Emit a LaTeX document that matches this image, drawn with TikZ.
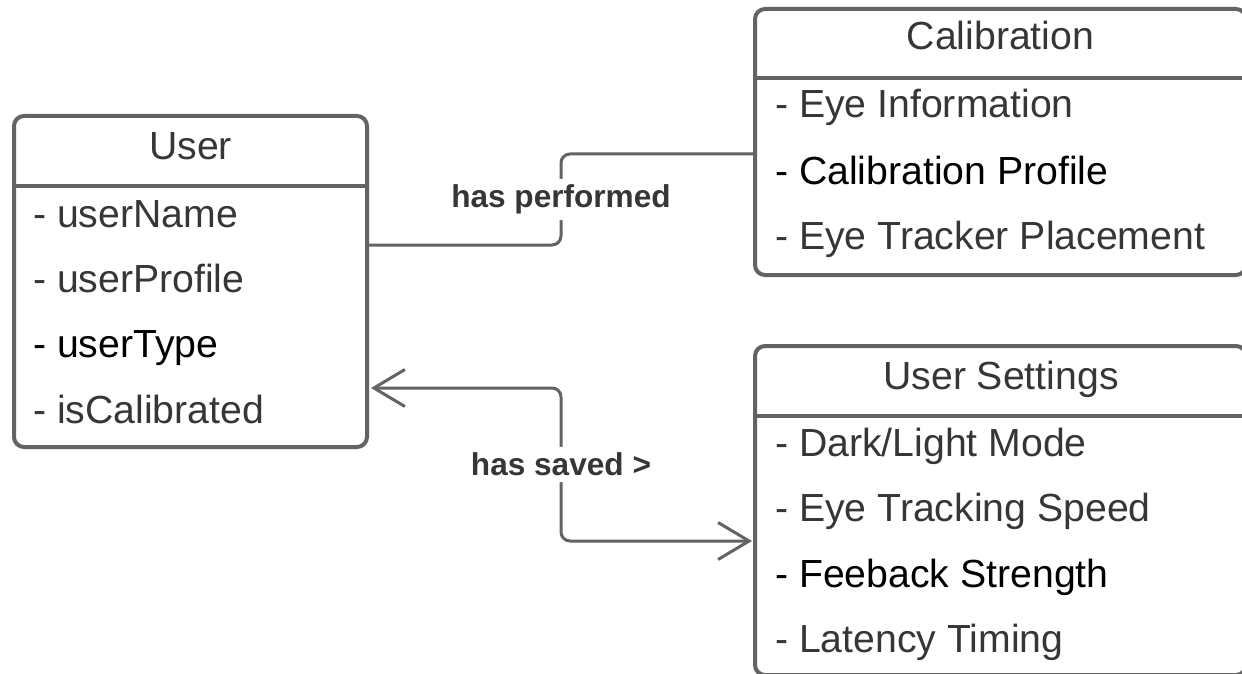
\documentclass[tikz,border=0pt]{standalone}
\usepackage{fontspec}
\setmainfont{Liberation Sans}
\usepackage{tikz}
\usetikzlibrary{positioning, arrows.meta}

\definecolor{linegray}{HTML}{636363}
\definecolor{textgray}{HTML}{363636}

\tikzset{
    classbox/.style={draw=linegray, line width=4pt, rounded corners=10pt, anchor=north west, inner sep=0pt, outer sep=0pt},
    divider/.style={draw=linegray, line width=4pt},
    classtitle/.style={anchor=base, inner sep=0pt, text=textgray, font=\fontsize{39.2}{46}\selectfont},
    attr/.style={anchor=base west, inner sep=0pt, text=textgray, font=\fontsize{39.2}{46}\selectfont},
    link/.style={draw=linegray, line width=3pt, rounded corners=9pt},
    linklabel/.style={fill=white, inner xsep=3pt, inner ysep=6pt, text=textgray, font=\bfseries\fontsize{31.6}{36}\selectfont},
    openhead/.tip={Straight Barb[length=31pt, width=37pt]}
}

\begin{document}
\begin{tikzpicture}[x=1pt, y=-1pt]
    \useasboundingbox (0,0) rectangle (1242,674);

    % User
    \node[classbox, minimum width=353pt, minimum height=331pt] (user) at (14,116) {};
    \draw[divider] (14,186) -- (367,186);
    \node[classtitle] (usertitle) at (190.5,159) {User};
    \node[attr] (username) at (33,227) {- userName};
    \node[attr] (userprofile) at (33,292) {- userProfile};
    \node[attr, text=black] (usertype) at (33,357) {- userType};
    \node[attr] (iscalibrated) at (33,423) {- isCalibrated};

    % Calibration
    \node[classbox, minimum width=491pt, minimum height=266pt] (calib) at (755,9) {};
    \draw[divider] (755,78) -- (1246,78);
    \node[classtitle] (calibtitle) at (1000.5,50) {Calibration};
    \node[attr] (eyeinfo) at (775,118) {- Eye Information};
    \node[attr, text=black] (calibprofile) at (775,184) {- Calibration Profile};
    \node[attr] (placement) at (775,249) {- Eye Tracker Placement};

    % User Settings
    \node[classbox, minimum width=491pt, minimum height=329pt] (settings) at (755,346) {};
    \draw[divider] (755,416) -- (1246,416);
    \node[classtitle] (settingstitle) at (1001,389) {User Settings};
    \node[attr] (mode) at (775,456) {- Dark/Light Mode};
    \node[attr] (speed) at (775,521) {- Eye Tracking Speed};
    \node[attr, text=black] (strength) at (775,587) {- Feeback Strength};
    \node[attr] (latency) at (775,652) {- Latency Timing};

    % connectors
    \draw[link] ([yshift=36.5pt]user.east) -- (561,245)
        -- node[linklabel] {has performed} (561,154) -- ([yshift=-12pt]calib.west);
    \draw[link, openhead-openhead] ([xshift=4pt, yshift=-106.5pt]user.east) -- (561,388)
        -- node[linklabel] {has saved >} (561,541) -- ([xshift=-3pt, yshift=-30.5pt]settings.west);
\end{tikzpicture}
\end{document}
